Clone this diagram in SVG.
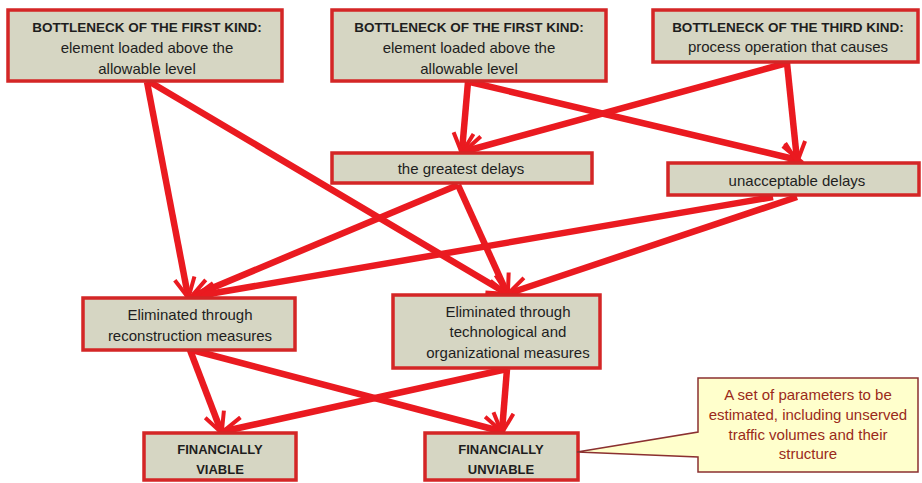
<svg xmlns="http://www.w3.org/2000/svg" width="922" height="483" viewBox="0 0 922 483">
<defs>
<style>
.box{fill:#d6d6c3;stroke:#d42626;stroke-width:3.5}
.t{font-family:"Liberation Sans",Arial,sans-serif;font-size:15px;fill:#1e1e1e;text-anchor:middle}
.b{font-weight:bold;font-size:13.5px}
.fb{font-weight:bold;font-size:13px}
.call{fill:#ffffcc;stroke:#8b3030;stroke-width:1.5}
.ct{font-family:"Liberation Sans",Arial,sans-serif;font-size:15px;fill:#9a2a1a;text-anchor:middle}
.c{stroke:#ea1a20;stroke-width:6.5;fill:none;marker-end:url(#ah)}
</style>
<marker id="ah" markerUnits="userSpaceOnUse" markerWidth="26" markerHeight="24" refX="19" refY="12" orient="auto">
<path d="M1,2 L21,12 L1,22" fill="none" stroke="#ea1a20" stroke-width="4" stroke-linejoin="miter"/>
</marker>
</defs>
<rect width="922" height="483" fill="#fff"/>
<g id="connectors">
<line class="c" x1="147" y1="82" x2="188" y2="296"/>
<line class="c" x1="150" y1="82" x2="506" y2="293"/>
<line class="c" x1="468" y1="82" x2="462" y2="151"/>
<line class="c" x1="470" y1="82" x2="798" y2="160"/>
<line class="c" x1="787" y1="63" x2="466" y2="151"/>
<line class="c" x1="787" y1="63" x2="797" y2="160"/>
<line class="c" x1="458" y1="185" x2="193" y2="296"/>
<line class="c" x1="458" y1="185" x2="507" y2="293"/>
<line class="c" x1="773" y1="197" x2="197" y2="296"/>
<line class="c" x1="797" y1="197" x2="510" y2="293"/>
<line class="c" x1="190" y1="350" x2="221" y2="431"/>
<line class="c" x1="192" y1="350" x2="500" y2="431"/>
<line class="c" x1="507" y1="369" x2="225" y2="431"/>
<line class="c" x1="507" y1="369" x2="502" y2="431"/>
</g>
<g id="n1">
<rect class="box" x="8" y="10" width="274" height="71"/>
<text class="t b" x="147" y="32">BOTTLENECK OF THE FIRST KIND:</text>
<text class="t" x="147" y="53">element loaded above the</text>
<text class="t" x="147" y="74">allowable level</text>
</g>
<g id="n2">
<rect class="box" x="332" y="10" width="274" height="71"/>
<text class="t b" x="469" y="32">BOTTLENECK OF THE FIRST KIND:</text>
<text class="t" x="469" y="53">element loaded above the</text>
<text class="t" x="469" y="74">allowable level</text>
</g>
<g id="n3">
<rect class="box" x="653" y="10" width="265" height="52"/>
<text class="t b" x="788" y="32">BOTTLENECK OF THE THIRD KIND:</text>
<text class="t" x="788" y="52">process operation that causes</text>
</g>
<g id="n4">
<rect class="box" x="332" y="153" width="260" height="30"/>
<text class="t" x="461" y="174">the greatest delays</text>
</g>
<g id="n5">
<rect class="box" x="668" y="163" width="251" height="32"/>
<text class="t" x="797" y="186">unacceptable delays</text>
</g>
<g id="n6">
<rect class="box" x="83" y="298" width="212" height="52"/>
<text class="t" x="190" y="320">Eliminated through</text>
<text class="t" x="190" y="341">reconstruction measures</text>
</g>
<g id="n7">
<rect class="box" x="393" y="295" width="207" height="73"/>
<text class="t" x="508" y="317">Eliminated through</text>
<text class="t" x="508" y="337">technological and</text>
<text class="t" x="508" y="358">organizational measures</text>
</g>
<g id="n8">
<rect class="box" x="144" y="433" width="152" height="47"/>
<text class="t fb" x="220" y="454">FINANCIALLY</text>
<text class="t fb" x="220" y="474">VIABLE</text>
</g>
<g id="n9">
<rect class="box" x="425" y="433" width="153" height="47"/>
<text class="t fb" x="501" y="454">FINANCIALLY</text>
<text class="t fb" x="501" y="474">UNVIABLE</text>
</g>
<g id="callout">
<path class="call" d="M698,378 H918 V472 H698 V457 L577,452 L698,432 Z"/>
<text class="ct" x="808" y="400">A set of parameters to be</text>
<text class="ct" x="808" y="420">estimated, including unserved</text>
<text class="ct" x="808" y="440">traffic volumes and their</text>
<text class="ct" x="808" y="459">structure</text>
</g>
</svg>
